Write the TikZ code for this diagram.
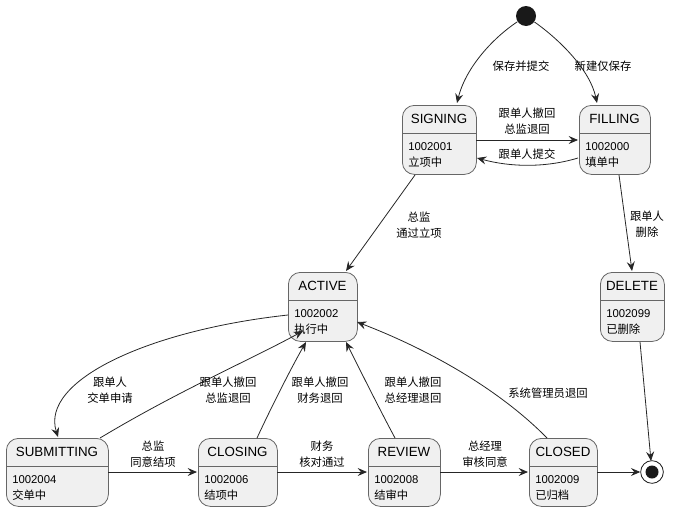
\documentclass[tikz,border=0pt]{standalone}
\usepackage{fontspec}
\setmainfont{Liberation Sans}
\newfontfamily\cjk{Noto Sans CJK SC}
\usetikzlibrary{arrows.meta}
\begin{document}
\begin{tikzpicture}[x=0.75pt,y=-0.75pt,
  box/.style={draw=black!60,fill=black!6,rounded corners=9pt,line width=0.6pt,inner sep=0},
  ttl/.style={font=\fontsize{10}{12}\selectfont},
  bod/.style={font=\fontsize{8.5}{11}\selectfont,anchor=west,inner sep=0,align=left},
  lbl/.style={font=\cjk\fontsize{8.5}{12}\selectfont,align=center,inner sep=0},
  arr/.style={-{Stealth[length=7pt,width=6pt,inset=2.5pt]},line width=0.6pt,draw=black!85}]
\useasboundingbox (0,0) rectangle (680,514);
\newcommand{\stt}[8]{%
  \node[box,minimum width=#4*0.75pt,minimum height=#5*0.75pt,anchor=north west] (#1) at (#2,#3) {};
  \draw[black!60,line width=0.6pt] (#2,#3+28) -- (#2+#4,#3+28);
  \node[ttl] at (#2+#4/2,#3+14) {#6};
  \node[bod] at (#2+6,#3+42) {#7};
  \node[bod,font=\cjk\fontsize{8.5}{11}\selectfont] at (#2+6,#3+57) {#8};}
\stt{sig}{402}{105}{74}{69}{SIGNING}{1002001}{立项中}
\stt{fil}{579}{105}{71}{69}{FILLING}{1002000}{填单中}
\stt{act}{288}{272}{69}{69}{ACTIVE}{1002002}{执行中}
\stt{del}{600}{272}{64}{69}{DELETE}{1002099}{已删除}
\stt{sub}{6}{438}{102}{68}{SUBMITTING}{1002004}{交单中}
\stt{clg}{198}{438}{79}{68}{CLOSING}{1002006}{结项中}
\stt{rev}{368}{438}{72}{68}{REVIEW}{1002008}{结审中}
\stt{cld}{529}{438}{68}{68}{CLOSED}{1002009}{已归档}
\node[circle,fill=black!90,minimum size=15pt,inner sep=0] (start) at (526,16) {};
\node[circle,draw=black!90,line width=0.6pt,fill=white,minimum size=17pt,inner sep=0] (end) at (652,472) {};
\fill[black!90] (end) circle (6.5*0.75pt);
\draw[arr] (start) .. controls (490,40) and (465,70) .. (457,103);
\node[lbl] at (521,66) {保存并提交};
\draw[arr] (start) .. controls (560,40) and (590,70) .. (597,103);
\node[lbl] at (603,66) {新建仅保存};
\draw[arr] (476,140) -- (578,140);
\node[lbl] at (527,121) {跟单人撤回\\总监退回};
\draw[arr] (578,158) .. controls (545,168) and (510,167) .. (477,158);
\node[lbl] at (527,154) {跟单人提交};
\draw[arr] (415,175) -- (346,271);
\node[lbl] at (419,225) {总监\\通过立项};
\draw[arr] (619,175) -- (632,271);
\node[lbl] at (647,224) {跟单人\\删除};
\draw[arr] (640,342) -- (651,461);
\draw[arr] (288,315) .. controls (150,330) and (40,380) .. (58,437);
\node[lbl] at (110,390) {跟单人\\交单申请};
\draw[arr] (100,438) .. controls (180,390) and (250,360) .. (303,331);
\node[lbl] at (228,390) {跟单人撤回\\总监退回};
\draw[arr] (257,438) .. controls (270,410) and (290,370) .. (306,342);
\node[lbl] at (320,390) {跟单人撤回\\财务退回};
\draw[arr] (395,438) .. controls (380,410) and (360,370) .. (346,342);
\node[lbl] at (413,390) {跟单人撤回\\总经理退回};
\draw[arr] (547,438) .. controls (500,390) and (430,350) .. (357,322);
\node[lbl] at (548,393) {系统管理员退回};
\draw[arr] (108,472) -- (197,472);
\node[lbl] at (153,454) {总监\\同意结项};
\draw[arr] (277,472) -- (367,472);
\node[lbl] at (322,454) {财务\\核对通过};
\draw[arr] (440,472) -- (528,472);
\node[lbl] at (485,454) {总经理\\审核同意};
\draw[arr] (597,472) -- (end);
\end{tikzpicture}
\end{document}
